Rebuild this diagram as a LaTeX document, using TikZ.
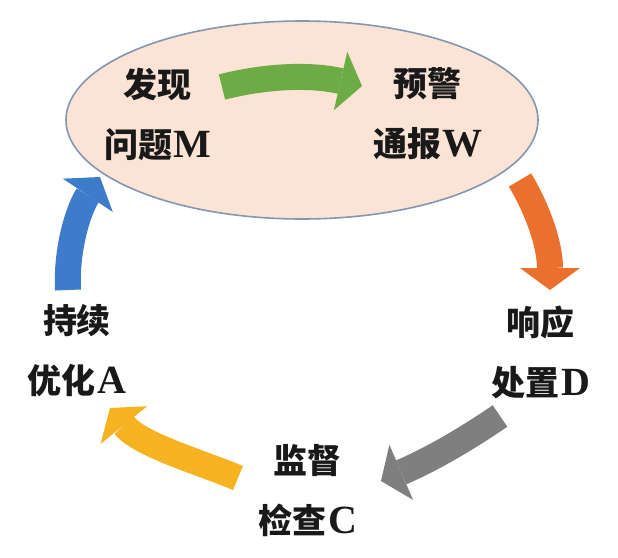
\documentclass[tikz,border=0pt]{standalone}
\usepackage{fontspec}
\usepackage{tikz}
\usetikzlibrary{arrows.meta,shapes.geometric}
\newfontfamily\cjk{Noto Sans CJK SC}
\newfontfamily\latn{Liberation Serif}
\definecolor{ellfill}{HTML}{FBE3D6}
\definecolor{ellline}{HTML}{8496B0}
\definecolor{grn}{HTML}{6DAB45}
\definecolor{org}{HTML}{EC702D}
\definecolor{gry}{HTML}{7F7F7F}
\definecolor{ylw}{HTML}{F5B322}
\definecolor{blu}{HTML}{3F7BCB}
\newcommand{\lt}[1]{{\latn\bfseries\fontsize{20}{30}\selectfont\kern0.8pt#1}}

\begin{document}
\begin{tikzpicture}[x=0.5pt,y=-0.5pt,
      lbl/.style={align=center,inner sep=0pt,text=black!90,
                  font=\cjk\bfseries\fontsize{17}{30}\selectfont},
      blk/.style={line width=13pt,line cap=butt,
                  -{Triangle[length=11pt,width=30pt,line width=0pt]}}]
    \useasboundingbox (0,0) rectangle (618,558);
    % top ellipse
    \node[ellipse,draw=ellline,fill=ellfill,line width=0.8pt,
          minimum width=236pt,minimum height=99pt,inner sep=0pt]
      (ring) at (302,120) {};
    % stage labels
    \node[lbl] (find) at (158,114) {发现\\问题\lt{M}};
    \node[lbl] (warn) at (428,114) {预警\\通报\lt{W}};
    \node[lbl] (resp) at (541,352) {响应\\处置\lt{D}};
    \node[lbl] (check) at (308,491) {监督\\检查\lt{C}};
    \node[lbl] (impr) at (77,351) {持续\\优化\lt{A}};
    % arrow ends
    \coordinate (g1) at (222,87);  \coordinate (g2) at (362,86);
    \coordinate (o1) at (520,180); \coordinate (o2) at (550,290);
    \coordinate (k1) at (500,416); \coordinate (k2) at (381,481);
    \coordinate (y1) at (238,478); \coordinate (y2) at (110,408);
    \coordinate (b1) at (68,290);  \coordinate (b2) at (100,177);
    % cycle arrows
    \draw[blk,grn] (g1) .. controls (265,76) and (310,74) .. (g2);
    \draw[blk,org] (o1) .. controls (538,210) and (550,245) .. (o2);
    \draw[blk,gry] (k1) .. controls (465,440) and (430,460) .. (k2);
    \draw[blk,ylw] (y1) .. controls (200,462) and (140,445) .. (y2);
    \draw[blk,blu] (b1) .. controls (66,250) and (78,210) .. (b2);
\end{tikzpicture}
\end{document}
